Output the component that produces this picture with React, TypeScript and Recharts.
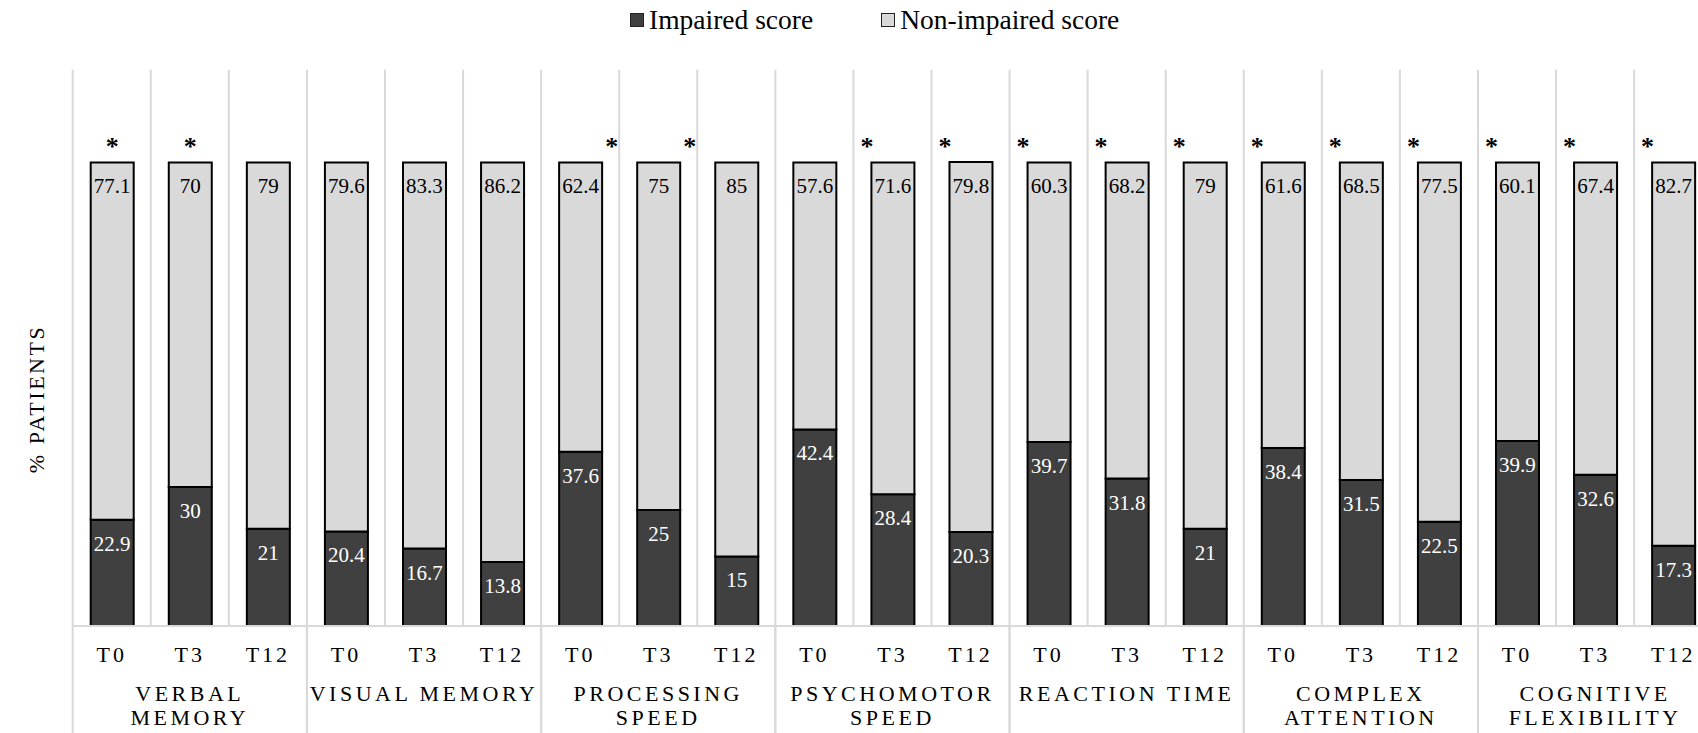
import React from "react";
import { Bar, BarChart, CartesianGrid, LabelList, XAxis, YAxis } from "recharts";

// Domain groups (multi-line labels) and time points per group
const DOMAINS = [
  ["VERBAL", "MEMORY"],
  ["VISUAL MEMORY"],
  ["PROCESSING", "SPEED"],
  ["PSYCHOMOTOR", "SPEED"],
  ["REACTION TIME"],
  ["COMPLEX", "ATTENTION"],
  ["COGNITIVE", "FLEXIBILITY"],
];
const TIMEPOINTS = ["T0", "T3", "T12"];

// % patients, in order domain by domain, T0 / T3 / T12
const IMPAIRED = [
  22.9, 30, 21, 20.4, 16.7, 13.8, 37.6, 25, 15, 42.4, 28.4, 20.3, 39.7, 31.8, 21,
  38.4, 31.5, 22.5, 39.9, 32.6, 17.3,
];
const NON_IMPAIRED = [
  77.1, 70, 79, 79.6, 83.3, 86.2, 62.4, 75, 85, 57.6, 71.6, 79.8, 60.3, 68.2, 79,
  61.6, 68.5, 77.5, 60.1, 67.4, 82.7,
];
// significance marks: where the asterisk sits above each bar
const STARS = [
  "center", "center", "", "", "", "", "right", "right", "", "", "left", "left",
  "left", "left", "left", "left", "left", "left", "left", "left", "left",
];

const DARK = "#404040";
const LIGHT = "#d9d9d9";
const GRID = "#d9d9d9";
const FONT = "Liberation Serif, DejaVu Serif, serif";

// layout
const CHART_W = 1720;
const CHART_H = 733;
const Y_AXIS_W = 72.7;
const PLOT_W = 1639.5;
const X_AXIS_H = 107;
const TOP = 69.7;
const AXIS_Y = CHART_H - X_AXIS_H;
const SLOT = PLOT_W / IMPAIRED.length;

const data = IMPAIRED.map((v, i) => ({
  key: `${Math.floor(i / 3)}-${TIMEPOINTS[i % 3]}`,
  tp: TIMEPOINTS[i % 3],
  impaired: v,
  nonImpaired: NON_IMPAIRED[i],
}));

function GroupTick(props: any) {
  const { x, index } = props;
  const group = Math.floor(index / 3);
  const pos = index % 3;
  return (
    <g>
      <text
        x={x}
        y={AXIS_Y + 36}
        textAnchor="middle"
        style={{ fontFamily: FONT, fontSize: 22, letterSpacing: 3, fill: "#000" }}
      >
        {data[index].tp}
      </text>
      {pos === 0 && (
        <line x1={x - SLOT / 2} x2={x - SLOT / 2} y1={AXIS_Y} y2={CHART_H} stroke={GRID} strokeWidth={2} />
      )}
      {pos === 2 && (
        <line x1={x + SLOT / 2} x2={x + SLOT / 2} y1={AXIS_Y} y2={CHART_H} stroke={GRID} strokeWidth={2} />
      )}
      {pos === 1 &&
        DOMAINS[group].map((line, k) => (
          <text
            key={k}
            x={x}
            y={AXIS_Y + 75 + k * 24}
            textAnchor="middle"
            style={{ fontFamily: FONT, fontSize: 22, letterSpacing: 3.5, fill: "#000" }}
          >
            {line}
          </text>
        ))}
    </g>
  );
}

function ValueLabel(color: string) {
  return (props: any) => {
    const { x, y, width, value } = props;
    return (
      <text
        x={x + width / 2}
        y={y + 31}
        textAnchor="middle"
        style={{ fontFamily: FONT, fontSize: 21, fill: color }}
      >
        {value}
      </text>
    );
  };
}

function StarLabel(props: any) {
  const { x, y, width, index } = props;
  const where = STARS[index];
  if (!where) return null;
  const c = x + width / 2;
  const sx = where === "center" ? c : where === "left" ? c - SLOT / 2 + 13 : c + SLOT / 2 - 8;
  return (
    <text
      x={sx}
      y={y - 7}
      textAnchor="middle"
      style={{ fontFamily: FONT, fontSize: 26, fontWeight: "bold", fill: "#000" }}
    >
      *
    </text>
  );
}

function LegendSwatch({ color, label }: { color: string; label: string }) {
  return (
    <div style={{ display: "flex", alignItems: "center" }}>
      <div
        style={{
          width: 12,
          height: 12,
          background: color,
          border: "1.5px solid #222",
          marginRight: 5,
        }}
      />
      <span style={{ fontSize: 27.5, lineHeight: "30px" }}>{label}</span>
    </div>
  );
}

export default function App() {
  return (
    <div
      style={{
        position: "fixed",
        left: 0,
        top: 0,
        width: 1698,
        height: 733,
        overflow: "hidden",
        background: "#fff",
        fontFamily: FONT,
      }}
    >
      <div
        style={{
          position: "absolute",
          left: 630,
          top: 5,
          display: "flex",
          gap: 68,
          zIndex: 2,
        }}
      >
        <LegendSwatch color={DARK} label="Impaired score" />
        <LegendSwatch color={LIGHT} label="Non-impaired score" />
      </div>
      <BarChart
        width={CHART_W}
        height={CHART_H}
        data={data}
        margin={{ top: TOP, right: CHART_W - Y_AXIS_W - PLOT_W, bottom: 0, left: 0 }}
      >
        <CartesianGrid
          horizontal={false}
          stroke={GRID}
          strokeWidth={2}
          verticalCoordinatesGenerator={({ offset }: any) =>
            Array.from({ length: IMPAIRED.length + 1 }, (_, i) => offset.left + (i * offset.width) / IMPAIRED.length)
          }
        />
        <XAxis
          dataKey="key"
          interval={0}
          height={X_AXIS_H}
          tickLine={false}
          axisLine={{ stroke: GRID, strokeWidth: 2 }}
          tick={<GroupTick />}
        />
        <YAxis
          width={Y_AXIS_W}
          domain={[0, 120]}
          ticks={[0, 20, 40, 60, 80, 100, 120]}
          tick={false}
          tickLine={false}
          axisLine={false}
          label={{
            content: () => (
              <text
                x={36}
                y={399}
                transform="rotate(-90 36 399)"
                textAnchor="middle"
                dominantBaseline="central"
                style={{ fontFamily: FONT, fontSize: 22, letterSpacing: 2.5, fill: "#000" }}
              >
                % PATIENTS
              </text>
            ),
          }}
        />
        <Bar dataKey="impaired" stackId="a" fill={DARK} stroke="#000" strokeWidth={2} barSize={43} isAnimationActive={false}>
          <LabelList dataKey="impaired" content={ValueLabel("#fff")} />
        </Bar>
        <Bar dataKey="nonImpaired" stackId="a" fill={LIGHT} stroke="#000" strokeWidth={2} barSize={43} isAnimationActive={false}>
          <LabelList dataKey="nonImpaired" content={ValueLabel("#000")} />
          <LabelList dataKey="nonImpaired" content={StarLabel} />
        </Bar>
      </BarChart>
    </div>
  );
}
